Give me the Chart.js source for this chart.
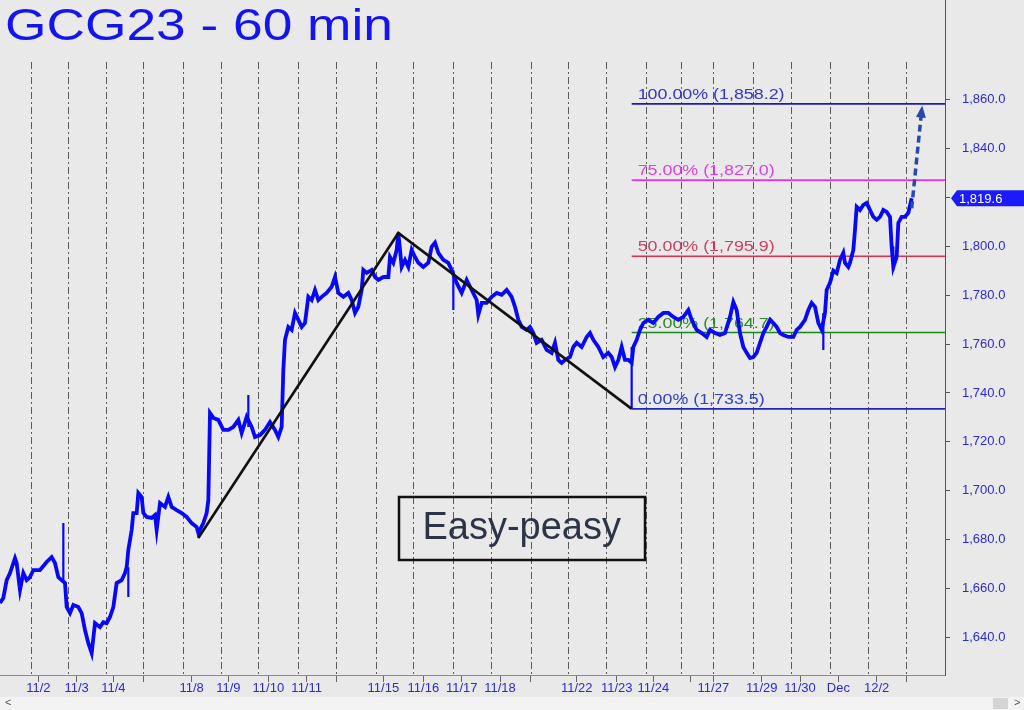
<!DOCTYPE html>
<html><head><meta charset="utf-8">
<script src="https://cdn.jsdelivr.net/npm/chart.js@4.4.0/dist/chart.umd.min.js"></script>
<style>html,body{margin:0;padding:0;background:#e9e9e9}canvas{display:block}</style>
</head><body>
<canvas id="c" width="1024" height="710"></canvas>
<script>
var priceHour=[0,2,4,6,9,10,12,14,16,18,
  20,24,28,31,33,35,37,39,40,42,
  44,47,49,51,53,55,57,60,62,64,
  66,68,70,73,75,76,77,79,80,82,
  83,85,86,88,91,93,94,96,99,101,
  103,106,109,112,115,118,119,122,124,125,
  126,128,131,134,137,140,143,145,148,151,
  153,156,159,162,165,167,169,170,171,173,
  175,177,179,181,183,185,187,189,191,193,
  196,199,201,203,206,209,211,213,215,217,
  218,220,223,225,227,230,233,234,236,238,
  239,241,243,245,247,249,251,254,257,259,
  261,263,266,269,271,274,277,280,283,286,
  287,289,292,295,298,301,304,307,309,311,
  313,316,318,320,322,325,328,331,333,335,
  337,339,342,344,346,349,352,354,356,359,
  362,365,367,369,371,373,375,377,379,380,
  382,384,386,389,392,395,398,401,404,407,
  410,413,415,418,421,424,426,429,432,435,
  438,440,442,444,446,448,450,452,454,456,
  458,460,462,464,466,468,470,473,476,478,
  480,483,485,487,489,491,493,495,496,498,
  500,502,504,506,507,509,510,512,513,514,
  516,518,520,522,524,526,528,530,532,534,
  535,536,538,539,541,543,545,547];
var priceClose=[1654.1,1656.2,1663.5,1666.4,1672.5,1670.5,1659.4,1666.4,1663.5,1664.7,
  1667.6,1667.6,1670.9,1672.9,1670.5,1664.7,1663.5,1662.3,1652.5,1650.0,
  1653.3,1652.5,1650.0,1643.1,1637.7,1633.7,1645.9,1644.3,1646.3,1645.9,
  1648.4,1652.5,1662.3,1663.5,1666.4,1668.8,1675.8,1684.0,1690.9,1690.9,
  1699.1,1697.5,1690.9,1689.3,1688.9,1690.1,1684.0,1695.0,1693.4,1697.5,
  1693.4,1692.1,1690.9,1689.3,1686.8,1685.2,1682.7,1686.8,1690.9,1696.2,
  1731.8,1729.8,1729.0,1724.9,1724.9,1726.1,1729.0,1723.6,1730.2,1726.1,
  1722.0,1722.8,1724.9,1728.1,1724.9,1722.0,1726.1,1749.4,1761.7,1767.0,
  1765.8,1772.7,1769.9,1767.0,1768.6,1779.3,1778.0,1782.1,1778.0,1779.3,
  1780.9,1783.4,1787.4,1780.9,1779.3,1780.9,1778.0,1772.7,1775.2,1782.1,
  1790.3,1789.1,1790.3,1787.4,1786.2,1787.4,1787.4,1795.6,1793.2,1798.5,
  1805.4,1791.5,1794.4,1791.5,1798.5,1795.6,1793.2,1791.5,1793.2,1799.7,
  1801.4,1797.3,1794.4,1793.2,1790.3,1785.0,1780.9,1786.2,1782.1,1778.0,
  1772.0,1776.8,1776.8,1779.3,1780.9,1780.1,1782.1,1779.3,1775.2,1769.9,
  1767.0,1765.8,1767.0,1764.5,1760.5,1761.7,1757.6,1756.4,1760.5,1753.5,
  1752.3,1753.5,1754.7,1758.8,1760.5,1758.8,1762.9,1764.5,1761.7,1758.8,
  1754.7,1756.4,1754.7,1750.6,1753.5,1758.8,1753.5,1753.5,1752.3,1758.8,
  1761.7,1765.8,1768.6,1769.9,1768.6,1771.1,1772.7,1772.7,1771.1,1769.9,
  1771.1,1773.9,1769.9,1765.8,1764.5,1762.9,1765.8,1764.5,1763.7,1764.5,
  1771.1,1777.2,1773.9,1764.5,1758.8,1756.4,1754.3,1754.7,1756.4,1760.5,
  1764.5,1767.0,1769.9,1768.6,1767.0,1764.5,1763.7,1762.9,1762.9,1765.8,
  1767.0,1769.9,1773.9,1776.8,1775.2,1768.6,1765.8,1772.7,1782.1,1785.0,
  1790.0,1789.0,1794.4,1797.3,1793.2,1791.5,1793.2,1798.5,1806.7,1816.1,
  1814.8,1816.9,1817.7,1814.8,1812.0,1810.8,1812.0,1814.8,1814.0,1812.0,
  1799.7,1791.5,1795.6,1809.5,1812.0,1812.0,1813.6,1819.6];

// single long bars that stick out of the band
var spikeHour=[38,77,149,272,379,494,536];
var spikeLow=[1663.5,1656.6,1726.1,1773.9,1733.5,1757.6,1790.0];
var spikeHigh=[1686.8,1668.8,1739.2,1790.3,1758.8,1772.7,1800.0];

// hand drawn swing and projection
var abcHour=[119,239,379];
var abcPrice=[1680.7,1805.4,1733.5];
var arrowHour=[547,553];
var arrowPrice=[1815.5,1855.5];

// retracement levels
var fibPct=["100.00%","75.00%","50.00%","25.00%","0.00%"];
var fibLevel=[1858.2,1827.0,1795.9,1764.7,1733.5];
var fibLine=["#1c1cb4","#f02cf0","#e0304c","#18881a","#1c28c0"];
var fibInk=["#3434c8","#e040e0","#cc4060","#2a8a2a","#3040c4"];
var fibStart=379;

var lastPrice=1819.6;
var noteText="Easy-peasy", noteHour=313, notePrice=1684.8;

// session boundaries and axis labels
var dayGrid=[19,41,64,86,110,133,155,179,202,226,248,272,295,319,341,364,388,409,428,452,475,498,521,544];
var labelHour=[23,46,68,86,115,137,161,184,202,230,254,277,300,318,346,370,392,414,428,457,480,503,526,544];
var labelText=["11/2","11/3","11/4","","11/8","11/9","11/10","11/11","","11/15","11/16","11/17","11/18","","11/22","11/23","11/24","","11/27","11/29","11/30","Dec","12/2",""];
var priceTicks=[1640,1660,1680,1700,1720,1740,1760,1780,1800,1820,1840,1860];
var xMax=567, yMin=1624.7, yMax=1875.3;

var FONT="Arial, 'Liberation Sans', sans-serif";
var BLUE="#0808f8";

function pts(xs,ys){return xs.map(function(x,i){return {x:x,y:ys[i]}})}
function fmt1(v){return v.toLocaleString("en-US",{minimumFractionDigits:1,maximumFractionDigits:1})}

var spikePts=[];
for(var i=0;i<spikeHour.length;i++){
  spikePts.push({x:spikeHour[i],y:spikeLow[i]},{x:spikeHour[i],y:spikeHigh[i]},{x:spikeHour[i],y:null});
}

var ds=[
  {data:pts(abcHour,abcPrice),borderColor:"#111",borderWidth:2.6,order:0},
  {data:pts(arrowHour,arrowPrice),borderColor:"#2a48a8",borderWidth:3.5,borderDash:[7,4],order:0},
  {data:spikePts,borderColor:BLUE,borderWidth:2.2,spanGaps:false,order:1},
  {data:pts(priceHour,priceClose),borderColor:BLUE,borderWidth:3.8,borderJoinStyle:"miter",order:2}
];
fibLevel.forEach(function(v,i){
  ds.push({data:[{x:fibStart,y:v},{x:xMax,y:v}],borderColor:fibLine[i],borderWidth:1.6,order:3});
});

var bgPlug={
  id:"bg",
  beforeDraw:function(c){
    var g=c.ctx;
    g.save();
    g.fillStyle="#e9e9e9";g.fillRect(0,0,c.width,c.height);
    g.fillStyle="#f3f3f3";g.fillRect(0,697,c.width,13);
    g.fillStyle="#d4d4d4";g.fillRect(993,698,15,11);
    g.fillStyle="#555";g.font="11px "+FONT;g.textBaseline="middle";
    g.fillText("<",5,703);g.fillText(">",1014,703);
    g.restore();
  },
  beforeDatasetsDraw:function(c){
    var g=c.ctx,xs=c.scales.x,ys=c.scales.y;
    g.save();
    g.font="15px "+FONT;g.textBaseline="alphabetic";
    fibLevel.forEach(function(v,i){
      g.save();
      g.translate(xs.getPixelForValue(fibStart)+6,ys.getPixelForValue(v)-5);
      g.scale(1.19,1);
      g.fillStyle=fibInk[i];
      g.fillText(fibPct[i]+" ("+fmt1(v)+")",0,0);
      g.restore();
    });
    g.restore();
  },
  afterDraw:function(c){
    var g=c.ctx,xs=c.scales.x,ys=c.scales.y,a=c.chartArea;
    g.save();
    // axis line up to the top
    g.strokeStyle="#555";g.lineWidth=1;
    g.beginPath();g.moveTo(a.right+0.5,0);g.lineTo(a.right+0.5,a.top);g.stroke();
    // title
    g.font="45px "+FONT;g.fillStyle="#1414ee";g.textBaseline="alphabetic";
    var tw=g.measureText("GCG23 - 60 min").width;
    g.save();g.translate(5,40);g.scale(388/tw,1);g.fillText("GCG23 - 60 min",0,0);g.restore();
    // arrow head
    var x1=xs.getPixelForValue(arrowHour[0]),y1=ys.getPixelForValue(arrowPrice[0]);
    var x2=xs.getPixelForValue(arrowHour[1]),y2=ys.getPixelForValue(arrowPrice[1]);
    var an=Math.atan2(y2-y1,x2-x1);
    var tx=x2+Math.cos(an)*5,ty=y2+Math.sin(an)*5;
    g.fillStyle="#2a48a8";g.beginPath();
    g.moveTo(tx,ty);
    g.lineTo(tx-Math.cos(an)*12+Math.sin(an)*5,ty-Math.sin(an)*12-Math.cos(an)*5);
    g.lineTo(tx-Math.cos(an)*12-Math.sin(an)*5,ty-Math.sin(an)*12+Math.cos(an)*5);
    g.closePath();g.fill();
    // note box
    var cx=xs.getPixelForValue(noteHour),cy=ys.getPixelForValue(notePrice);
    g.strokeStyle="#111";g.lineWidth=2.5;
    g.strokeRect(Math.round(cx-123),Math.round(cy-31),246,63);
    g.font="38px "+FONT;g.fillStyle="#2c3447";g.textAlign="center";g.textBaseline="middle";
    g.fillText(noteText,cx,cy+1);
    // last price tag
    var py=ys.getPixelForValue(lastPrice);
    g.fillStyle="#1a1aff";g.beginPath();
    g.moveTo(a.right+6,py);g.lineTo(a.right+12,py-8);g.lineTo(c.width,py-8);g.lineTo(c.width,py+8);g.lineTo(a.right+12,py+8);
    g.closePath();g.fill();
    g.fillStyle="#fff";g.font="13px "+FONT;g.textAlign="left";
    g.fillText(fmt1(lastPrice),a.right+14,py+1);
    g.restore();
  }
};

new Chart(document.getElementById("c"),{
  type:"line",
  data:{datasets:ds},
  options:{
    responsive:false,animation:false,devicePixelRatio:1,
    layout:{padding:{top:62,left:0,right:0,bottom:0}},
    elements:{point:{radius:0},line:{tension:0}},
    plugins:{legend:{display:false},tooltip:{enabled:false}},
    scales:{
      x:{type:"linear",position:"bottom",min:0,max:xMax,
        afterBuildTicks:function(s){s.ticks=labelHour.map(function(v){return {value:v}})},
        afterFit:function(s){s.height=35},
        ticks:{color:"#2a2ad8",font:{family:FONT,size:13},padding:-1,maxRotation:0,autoSkip:false,
          callback:function(v,i){return labelText[i]}},
        grid:{drawOnChartArea:false,tickLength:7,color:"#666"},
        border:{color:"#8a8a8a",width:1}},
      x2:{type:"linear",position:"top",min:0,max:xMax,
        afterBuildTicks:function(s){s.ticks=dayGrid.map(function(v){return {value:v}})},
        afterFit:function(s){s.height=0},
        ticks:{display:false},
        grid:{drawTicks:false,color:"#5a5a5a",lineWidth:1},
        border:{display:false,dash:[7,3,2,3]}},
      y:{type:"linear",position:"right",min:yMin,max:yMax,
        afterBuildTicks:function(s){s.ticks=priceTicks.map(function(v){return {value:v}})},
        afterFit:function(s){s.width=79},
        ticks:{color:"#2a2ad8",font:{family:FONT,size:13},padding:12,callback:function(v){return fmt1(v)}},
        grid:{drawOnChartArea:false,tickLength:5,color:"#555"},
        border:{color:"#555",width:1}}
    }
  },
  plugins:[bgPlug]
});
</script>
</body></html>
